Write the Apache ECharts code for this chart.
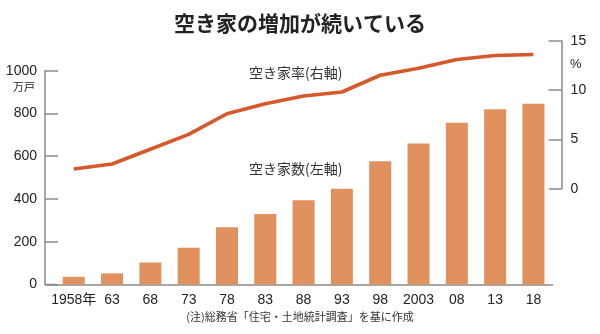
<!DOCTYPE html>
<html>
<head>
<meta charset="utf-8">
<script src="https://cdn.jsdelivr.net/npm/echarts@6/dist/echarts.min.js"></script>
<style>
  html, body { margin: 0; padding: 0; background: #fff; }
  #chart { width: 600px; height: 334px; }
</style>
</head>
<body>
<div id="chart"></div>
<script>
// Survey years (x axis labels)
const years = ['1958年', '63', '68', '73', '78', '83', '88', '93', '98', '2003', '08', '13', '18'];
// Number of vacant homes, 10,000 units (left axis)
const vacantHomes = [36, 52, 103, 172, 268, 330, 394, 448, 576, 659, 757, 820, 846];
// Vacancy rate, % (right axis)
const vacancyRate = [2.0, 2.5, 4.0, 5.5, 7.6, 8.6, 9.4, 9.8, 11.5, 12.2, 13.1, 13.5, 13.6];
// Tick settings
const leftTicks = { min: 0, max: 1000, interval: 200 };
const rightTicks = { min: 0, max: 15, interval: 5 };

const numFont = "'Liberation Sans Narrow', 'Liberation Sans', 'Noto Sans CJK JP', sans-serif";
const jpFont = "'Noto Sans CJK JP', sans-serif";
const axisGray = '#8a8a8a';
const textColor = '#222';

const chart = echarts.init(document.getElementById('chart'), null, { renderer: 'canvas' });

chart.setOption({
  animation: false,
  backgroundColor: '#ffffff',
  title: {
    text: '空き家の増加が続いている',
    left: 'center',
    top: 8,
    textStyle: { fontFamily: jpFont, fontSize: 21, fontWeight: 'bold', color: '#222' }
  },
  grid: [
    // bars
    { left: 54.6, right: 47.4, top: 70.7, bottom: 49.5 },
    // rate line
    { left: 54.6, right: 47.4, top: 40.7, bottom: 145.3 }
  ],
  xAxis: [
    {
      type: 'category', gridIndex: 0, data: years, boundaryGap: true,
      axisLine: { show: true, lineStyle: { color: axisGray, width: 1.5 } },
      axisTick: { show: false },
      axisLabel: { color: textColor, fontFamily: numFont, fontSize: 14, margin: 9, interval: 0 }
    },
    {
      type: 'category', gridIndex: 1, data: years, boundaryGap: true,
      axisLine: { show: false }, axisTick: { show: false }, axisLabel: { show: false }
    }
  ],
  yAxis: [
    {
      type: 'value', gridIndex: 0, position: 'left', offset: 9.6,
      min: leftTicks.min, max: leftTicks.max, interval: leftTicks.interval,
      axisLine: { show: true, lineStyle: { color: axisGray, width: 1.5 } },
      axisTick: { show: true, inside: true, length: 13, lineStyle: { color: axisGray, width: 1.5 } },
      axisLabel: { color: textColor, fontFamily: numFont, fontSize: 14, margin: 8, formatter: v => String(v) },
      splitLine: { show: false }
    },
    {
      type: 'value', gridIndex: 1, position: 'right', offset: 9,
      min: rightTicks.min, max: rightTicks.max, interval: rightTicks.interval,
      axisLine: { show: true, lineStyle: { color: axisGray, width: 1.5 } },
      axisTick: { show: true, inside: true, length: 13, lineStyle: { color: axisGray, width: 1.5 } },
      axisLabel: { color: textColor, fontFamily: numFont, fontSize: 14, margin: 9, formatter: v => String(v) },
      splitLine: { show: false }
    }
  ],
  series: [
    {
      name: '空き家数', type: 'bar', xAxisIndex: 0, yAxisIndex: 0,
      data: vacantHomes, barWidth: 22,
      itemStyle: { color: '#e0915d' }
    },
    {
      name: '空き家率', type: 'line', xAxisIndex: 1, yAxisIndex: 1,
      data: vacancyRate, symbol: 'none', smooth: false,
      lineStyle: { color: '#d5592b', width: 3.6 }
    }
  ],
  graphic: [
    // baseline continues to the left axis
    { type: 'line', shape: { x1: 45, y1: 284.5, x2: 55, y2: 284.5 }, style: { stroke: axisGray, lineWidth: 1.5 } },
    { type: 'text', left: 13, top: 81, style: { text: '万戸', font: '11px ' + jpFont, fill: textColor } },
    { type: 'text', left: 570, top: 58, style: { text: '%', font: '13px ' + numFont, fill: textColor } },
    { type: 'text', left: 249, top: 66, style: { text: '空き家率(右軸)', font: '14px ' + jpFont, fill: '#333' } },
    { type: 'text', left: 249, top: 162, style: { text: '空き家数(左軸)', font: '14px ' + jpFont, fill: '#333' } },
    { type: 'text', left: 'center', top: 311, style: { text: '(注)総務省「住宅・土地統計調査」を基に作成', font: '11px ' + jpFont, fill: '#333' } }
  ]
});
</script>
</body>
</html>
